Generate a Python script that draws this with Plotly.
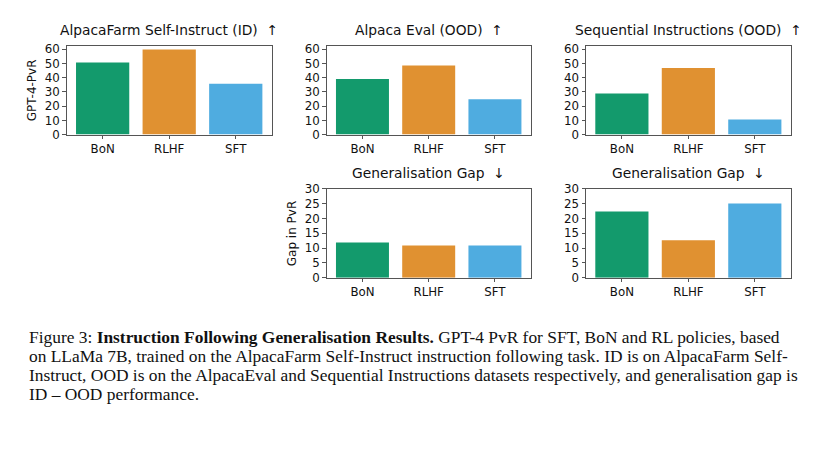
import plotly.graph_objects as go

W, H = 827, 452

methods = ["BoN", "RLHF", "SFT"]
colors = ["#139A6C", "#E09131", "#4FACE0"]

alpacafarm_id = [50.7, 59.8, 35.8]
alpaca_eval_ood = [39.2, 48.7, 24.9]
seq_instr_ood = [29.0, 46.9, 10.6]
gap_alpaca_eval = [11.9, 10.9, 10.9]
gap_seq_instr = [22.4, 12.65, 25.1]

titles = [
    "AlpacaFarm Self-Instruct (ID)  ↑",
    "Alpaca Eval (OOD)  ↑",
    "Sequential Instructions (OOD)  ↑",
    "Generalisation Gap  ↓",
    "Generalisation Gap  ↓",
]
series = [alpacafarm_id, alpaca_eval_ood, seq_instr_ood, gap_alpaca_eval, gap_seq_instr]

top_ticks = [0, 10, 20, 30, 40, 50, 60]
gap_ticks = [0, 5, 10, 15, 20, 25, 30]

caption_lines = [
    "Figure 3: <b>Instruction Following Generalisation Results.</b> GPT-4 PvR for SFT, BoN and RL policies, based",
    "on LLaMa 7B, trained on the AlpacaFarm Self-Instruct instruction following task. ID is on AlpacaFarm Self-",
    "Instruct, OOD is on the AlpacaEval and Sequential Instructions datasets respectively, and generalisation gap is",
    "ID – OOD performance.",
]

# panel boxes in pixels: (x0, x1, y0_top, y1_bottom)
boxes = [
    (66.7, 271.7, 40.0, 131.7),
    (326.7, 530.7, 40.0, 131.7),
    (586.0, 790.7, 40.0, 131.7),
    (326.7, 530.7, 187.7, 279.3),
    (586.0, 790.7, 187.7, 279.3),
]

FONT = "DejaVu Sans"
SPINE = "#555555"

fig = go.Figure()
layout = dict(
    width=W, height=H, margin=dict(l=0, r=0, t=0, b=0),
    paper_bgcolor="white", plot_bgcolor="white", showlegend=False,
    bargap=0.2,
)
annotations = []
for i, (vals, (x0, x1, yt, yb)) in enumerate(zip(series, boxes)):
    n = "" if i == 0 else str(i + 1)
    fig.add_trace(go.Bar(
        x=methods, y=vals, marker=dict(color=colors, line=dict(width=0)),
        xaxis="x" + n, yaxis="y" + n, width=0.8,
    ))
    ticks = top_ticks if i < 3 else gap_ticks
    yr = [0, 62.5] if i < 3 else [0, 30]
    layout["xaxis" + n] = dict(
        domain=[x0 / W, x1 / W], anchor="y" + n, type="category",
        range=[-0.54, 2.54], showline=True, mirror=True, linecolor=SPINE,
        linewidth=1, ticks="outside", ticklen=3.5, tickcolor=SPINE,
        showgrid=False, zeroline=False,
        tickfont=dict(family=FONT, size=11.8, color="#111"),
    )
    layout["yaxis" + n] = dict(
        domain=[1 - yb / H, 1 - yt / H], anchor="x" + n, range=yr,
        tickvals=ticks, showline=True, mirror=True, linecolor=SPINE,
        linewidth=1, ticks="outside", ticklen=3.5, tickcolor=SPINE,
        showgrid=False, zeroline=False,
        tickfont=dict(family=FONT, size=11.8, color="#111"),
    )
    annotations.append(dict(
        text=titles[i], x=(x0 + x1) / 2 / W, y=1 - (yt - 6) / H,
        xref="paper", yref="paper", xanchor="center", yanchor="bottom",
        showarrow=False, font=dict(family=FONT, size=13.8, color="#111"),
    ))

annotations.append(dict(
    text="GPT-4-PvR", x=32 / W, y=1 - ((40 + 131.7) / 2) / H, xref="paper", yref="paper",
    textangle=-90, showarrow=False, xanchor="center", yanchor="middle",
    font=dict(family=FONT, size=12, color="#111"),
))
annotations.append(dict(
    text="Gap in PvR", x=292 / W, y=1 - ((187.7 + 279.3) / 2) / H, xref="paper", yref="paper",
    textangle=-90, showarrow=False, xanchor="center", yanchor="middle",
    font=dict(family=FONT, size=12, color="#111"),
))

for k, line in enumerate(caption_lines):
    annotations.append(dict(
        text=line, x=27 / W, y=1 - (341 + 19.3 * k) / H, xref="paper", yref="paper",
        xanchor="left", yanchor="middle", showarrow=False,
        font=dict(family="Liberation Serif", size=17.4, color="#111"),
    ))

layout["annotations"] = annotations
fig.update_layout(**layout)
fig.write_html("out.html")
